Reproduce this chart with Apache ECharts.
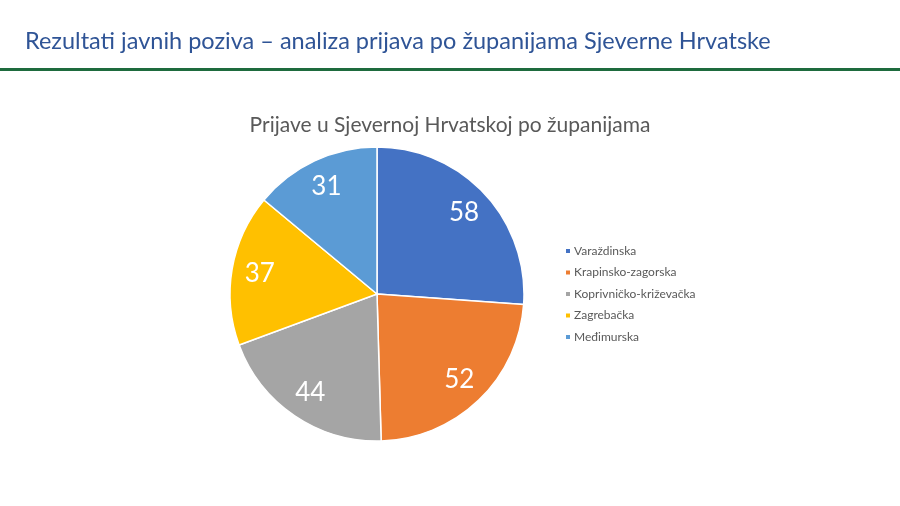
<!DOCTYPE html>
<html>
<head>
<meta charset="utf-8">
<script src="https://cdn.jsdelivr.net/npm/echarts@6/dist/echarts.min.js"></script>
<style>
  html, body { margin: 0; padding: 0; background: #fff; }
  #main { width: 900px; height: 506px; }
</style>
</head>
<body>
<div id="main"></div>
<script>
var counties = ['Varaždinska', 'Krapinsko-zagorska', 'Koprivničko-križevačka', 'Zagrebačka', 'Međimurska'];
var applications = [58, 52, 44, 37, 31];
var colors = ['#4472C4', '#ED7D31', '#A5A5A5', '#FFC000', '#5B9BD5'];

var myChart = echarts.init(document.getElementById('main'));

var pieData = counties.map(function (name, i) {
    return { name: name, value: applications[i], itemStyle: { color: colors[i] } };
});

var option = {
    animation: false,
    title: [{
        text: 'Rezultati javnih poziva – analiza prijava po županijama Sjeverne Hrvatske',
        left: 20,
        top: 24,
        textStyle: { fontFamily: 'Lato', fontSize: 23.5, fontWeight: 'normal', color: '#2F5496' }
    }, {
        text: 'Prijave u Sjevernoj Hrvatskoj po županijama',
        left: 'center',
        top: 110,
        textStyle: { fontFamily: 'Lato', fontSize: 21, fontWeight: 'normal', color: '#595959' }
    }],
    graphic: [{
        type: 'rect',
        shape: { x: 0, y: 68, width: 900, height: 3 },
        style: { fill: '#1E6B3E' }
    }],
    legend: {
        orient: 'vertical',
        left: 559,
        top: 240,
        itemWidth: 6,
        itemHeight: 6,
        itemGap: 9.5,
        icon: 'rect',
        data: counties,
        textStyle: { fontFamily: 'Lato', fontSize: 12, color: '#595959', padding: [0, 0, 0, -2] }
    },
    series: [{
        name: 'Prijave',
        type: 'pie',
        center: [377, 294],
        radius: [0, 147],
        startAngle: 90,
        clockwise: true,
        label: { show: false },
        labelLine: { show: false },
        itemStyle: { borderColor: '#fff', borderWidth: 1.5 },
        data: pieData
    }, {
        name: 'Labels',
        type: 'pie',
        center: [377, 294],
        radius: [0, 232],
        startAngle: 90,
        clockwise: true,
        silent: true,
        legendHoverLink: false,
        itemStyle: { color: 'transparent', borderWidth: 0 },
        label: {
            show: true,
            position: 'inside',
            formatter: '{c}',
            fontFamily: 'Lato',
            fontSize: 26,
            color: '#fff'
        },
        labelLine: { show: false },
        data: counties.map(function (name, i) {
            return { name: name + ' ', value: applications[i] };
        })
    }]
};

myChart.setOption(option);
</script>
</body>
</html>
